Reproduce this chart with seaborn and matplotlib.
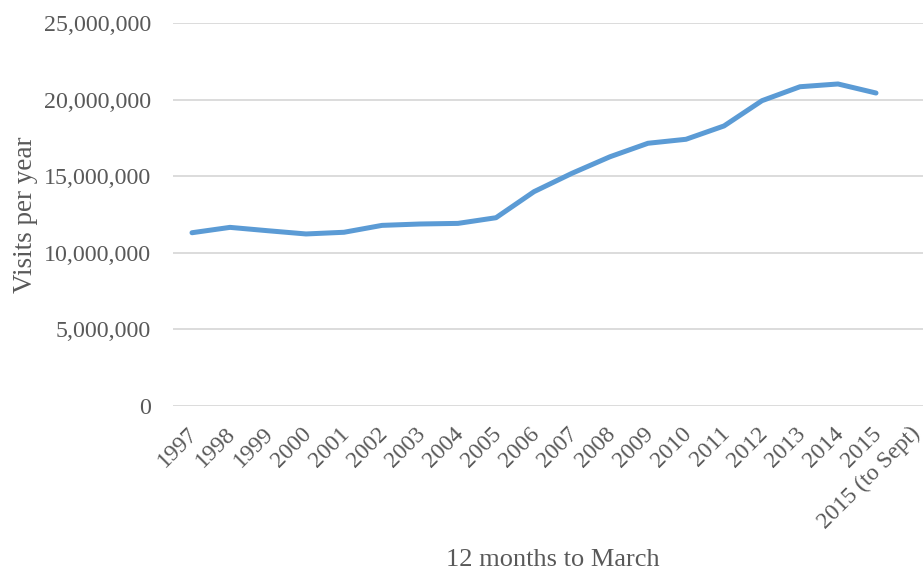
import numpy as np
import pandas as pd
import matplotlib
matplotlib.use("Agg")
import matplotlib.pyplot as plt
import matplotlib.transforms as mtransforms
import seaborn as sns
from matplotlib.ticker import FuncFormatter

# 12 months to March, visits per year (last category has no value)
YEARS = ["1997", "1998", "1999", "2000", "2001", "2002", "2003", "2004", "2005",
         "2006", "2007", "2008", "2009", "2010", "2011", "2012", "2013", "2014",
         "2015", "2015 (to Sept)"]
VISITS = [11310000, 11660000, 11440000, 11230000, 11340000, 11790000, 11880000,
          11920000, 12290000, 13990000, 15190000, 16270000, 17150000, 17410000,
          18280000, 19930000, 20840000, 21020000, 20430000, np.nan]
Y_TICKS = [0, 5000000, 10000000, 15000000, 20000000, 25000000]

TEXT_COL = "#595959"
LINE_COL = "#5B9BD5"
GRID_COL = "#D9D9D9"


def main():
    sns.set_style("white")
    plt.rcParams["font.family"] = ["Liberation Serif", "DejaVu Serif"]

    df = pd.DataFrame({"pos": np.arange(len(YEARS)), "visits": VISITS})

    fig = plt.figure(figsize=(9.23, 5.75), dpi=100)
    ax = fig.add_axes([173 / 923, 169 / 575, 760 / 923, 383 / 575])

    sns.lineplot(data=df, x="pos", y="visits", color=LINE_COL, linewidth=3.6,
                 ax=ax, solid_capstyle="round", solid_joinstyle="round")

    ax.set_xlim(-0.5, len(YEARS) - 0.5)
    ax.set_ylim(0, 25000000)
    ax.set_yticks(Y_TICKS)
    ax.yaxis.set_major_formatter(FuncFormatter(lambda v, p: f"{int(v):,}"))
    ax.set_xticks(df["pos"])
    ax.set_xticklabels(YEARS, rotation=45, ha="right", rotation_mode="anchor")

    for s in ax.spines.values():
        s.set_visible(False)
    ax.grid(axis="y", color=GRID_COL, linewidth=1.3)
    ax.set_axisbelow(True)
    ax.tick_params(axis="both", length=0, colors=TEXT_COL)
    ax.tick_params(axis="y", pad=16, labelsize=17.3)
    ax.tick_params(axis="x", pad=8, labelsize=17)

    # nudge the rotated year labels a little left and down
    shift = mtransforms.ScaledTranslation(-5 / 100, -6 / 100, fig.dpi_scale_trans)
    for lbl in ax.get_xticklabels():
        lbl.set_transform(lbl.get_transform() + shift)

    ax.set_xlabel("12 months to March", fontsize=19, color=TEXT_COL, labelpad=11)
    ax.set_ylabel("Visits per year", fontsize=19.5, color=TEXT_COL, labelpad=4)

    fig.savefig("out.png", dpi=100)


if __name__ == "__main__":
    main()
